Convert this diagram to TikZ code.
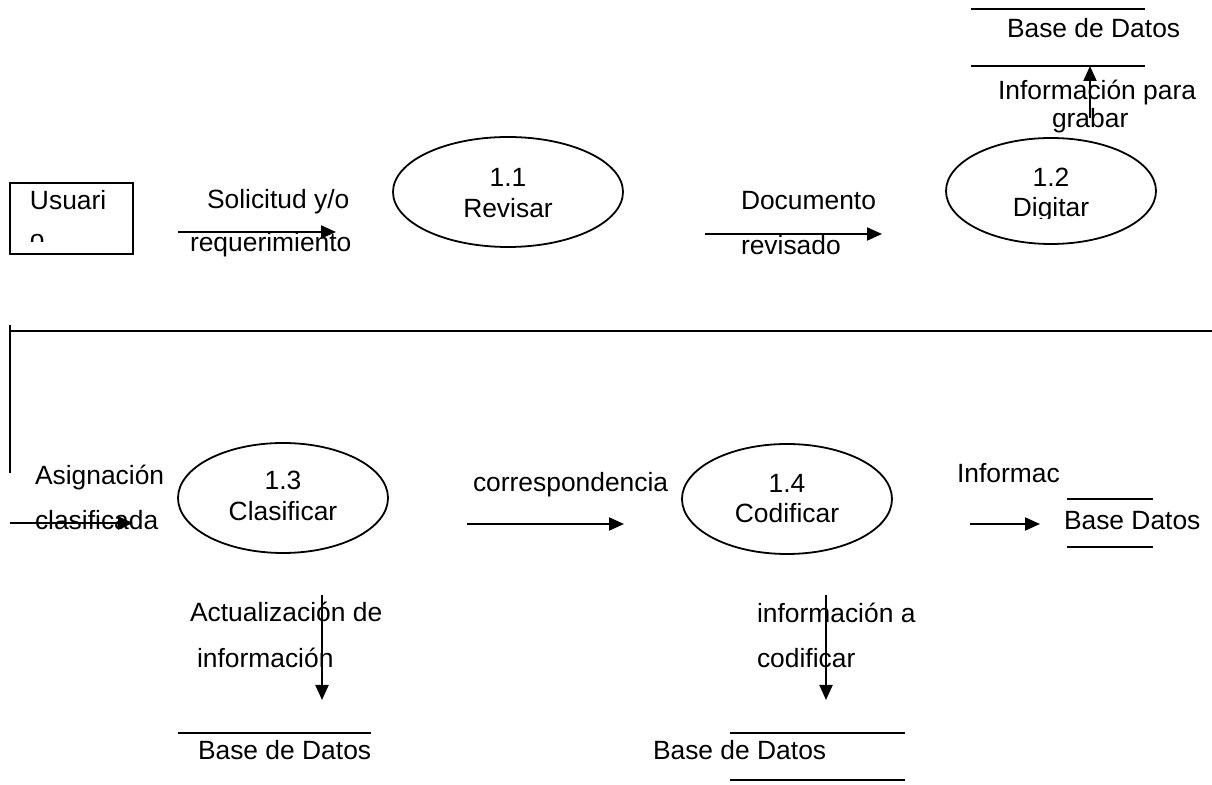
\documentclass[tikz,border=0pt]{standalone}
\usepackage{fontspec}
\setmainfont{Liberation Sans}
\usetikzlibrary{shapes.geometric,arrows.meta}
\begin{document}
\begin{tikzpicture}[x=0.5pt,y=-0.5pt,
  every node/.style={inner sep=0pt, outer sep=0pt, font=\fontsize{13.2}{15}\selectfont},
  lbl/.style={anchor=base west},
  clbl/.style={anchor=base},
  proc/.style={draw, ellipse, line width=0.9pt, minimum width=105pt, minimum height=55pt},
  flow/.style={line width=1pt, -{Triangle[length=7.5pt,width=6.5pt]}},
  ln/.style={line width=1pt}]
\useasboundingbox (0,0) rectangle (1212,785);

% Usuario box
\node[draw, line width=0.9pt, rectangle, minimum width=61.5pt, minimum height=35.5pt] (usr) at (71.5,218.5) {};
\node[lbl] (usrA) at (30,210) {Usuari};
\begin{scope}
\clip (10,183) rectangle (133,242);
\node[lbl] (usrB) at (30,249) {o};
\end{scope}

% flow 1
\coordinate (f1a) at (178,232);
\coordinate (f1b) at (336,232);
\draw[flow] (f1a) -- (f1b);
\node[lbl] (f1l1) at (207,209) {Solicitud y/o};
\node[lbl] (f1l2) at (190,252) {requerimiento};

% process 1.1
\node[proc, minimum width=115pt] (p11) at (508,192) {};
\node[clbl] (p11n) at (508,187) {1.1};
\node[clbl] (p11t) at (508,218) {Revisar};

% flow 2
\coordinate (f2a) at (705,234);
\coordinate (f2b) at (882,234);
\draw[flow] (f2a) -- (f2b);
\node[lbl] (f2l1) at (741,210) {Documento};
\node[lbl] (f2l2) at (741,255) {revisado};

% process 1.2
\node[proc, minimum height=53pt] (p12) at (1051,191) {};
\node[clbl] (p12n) at (1051,187) {1.2};
\begin{scope}
\clip (940,195) rectangle (1160,219);
\node[clbl] (p12t) at (1051,217) {Digitar};
\end{scope}

% data store top right
\coordinate (s1a) at (971,9);
\coordinate (s1b) at (1145,9);
\coordinate (s1c) at (971,66);
\coordinate (s1d) at (1145,66);
\draw[ln] (s1a) -- (s1b);
\draw[ln] (s1c) -- (s1d);
\node[lbl] (s1t) at (1007,38) {Base de Datos};
\node[lbl] (f3l1) at (998,100) {Información para};
\node[lbl] (f3l2) at (1052,128) {grabar};
\coordinate (f3a) at (1090,118);
\coordinate (f3b) at (1090,66);
\draw[flow] (f3a) -- (f3b);

% separator lines
\coordinate (sepT) at (10,325);
\coordinate (sepB) at (10,473);
\coordinate (hl) at (10,331);
\coordinate (hr) at (1212,331);
\draw[ln] (sepT) -- (sepB);
\draw[ln] (hl) -- (hr);

% Asignacion clasificada
\node[lbl] (f4l1) at (35,485) {Asignación};
\node[lbl] (f4l2) at (35,530) {clasificada};
\coordinate (f4a) at (10,523);
\coordinate (f4b) at (133,523);
\draw[flow] (f4a) -- (f4b);

% process 1.3
\node[proc] (p13) at (283,498) {};
\node[clbl] (p13n) at (283,490) {1.3};
\node[clbl] (p13t) at (283,521) {Clasificar};

% correspondencia
\node[lbl] (f5l) at (473,492) {correspondencia};
\coordinate (f5a) at (467,524);
\coordinate (f5b) at (624,524);
\draw[flow] (f5a) -- (f5b);

% process 1.4
\node[proc] (p14) at (787,499) {};
\node[clbl] (p14n) at (787,493) {1.4};
\node[clbl] (p14t) at (787,523) {Codificar};

% Informac -> Base Datos
\node[lbl] (f6l) at (957,483) {Informac};
\coordinate (f6a) at (970,524);
\coordinate (f6b) at (1040,524);
\draw[flow] (f6a) -- (f6b);
\coordinate (s2a) at (1067,499);
\coordinate (s2b) at (1153,499);
\coordinate (s2c) at (1067,547);
\coordinate (s2d) at (1153,547);
\draw[ln] (s2a) -- (s2b);
\draw[ln] (s2c) -- (s2d);
\node[lbl] (s2t) at (1064,530) {Base Datos};

% Actualizacion de informacion
\node[lbl] (f7l1) at (190,622) {Actualización de};
\node[lbl] (f7l2) at (197,668) {información};
\coordinate (f7a) at (322,595);
\coordinate (f7b) at (322,700);
\draw[flow] (f7a) -- (f7b);
\coordinate (s3a) at (178,733);
\coordinate (s3b) at (371,733);
\draw[ln] (s3a) -- (s3b);
\node[lbl] (s3t) at (198,760) {Base de Datos};

% informacion a codificar
\node[lbl] (f8l1) at (757,623) {información a};
\node[lbl] (f8l2) at (757,668) {codificar};
\coordinate (f8a) at (826,595);
\coordinate (f8b) at (826,700);
\draw[flow] (f8a) -- (f8b);
\coordinate (s4a) at (730,733);
\coordinate (s4b) at (905,733);
\coordinate (s4c) at (730,780);
\coordinate (s4d) at (905,780);
\draw[ln] (s4a) -- (s4b);
\draw[ln] (s4c) -- (s4d);
\node[lbl] (s4t) at (653,760) {Base de Datos};
\end{tikzpicture}
\end{document}
